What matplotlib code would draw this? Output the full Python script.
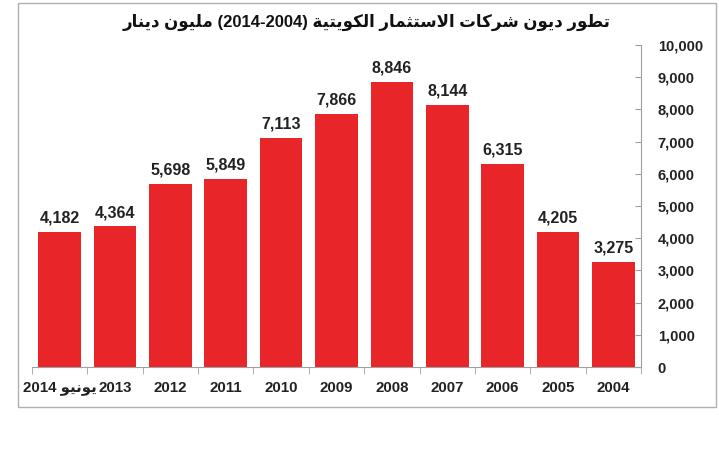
import matplotlib
matplotlib.use("Agg")
import matplotlib.pyplot as plt
from matplotlib.patches import Rectangle
from matplotlib.ticker import FuncFormatter, FixedLocator

# data, left to right as drawn
years = ["2014", "2013", "2012", "2011", "2010", "2009", "2008", "2007", "2006", "2005", "2004"]
debts = [4182, 4364, 5698, 5849, 7113, 7866, 8846, 8144, 6315, 4205, 3275]
title_words = "تطور ديون شركات الاستثمار الكويتية"
title_unit = "مليون دينار"
title_years = "(2014-2004)"
june = "يونيو"

# matplotlib has no arabic shaping, so do the joining forms by hand
DUAL = {'ب': 0xFE8F, 'ت': 0xFE95, 'ث': 0xFE99, 'ج': 0xFE9D, 'ح': 0xFEA1, 'خ': 0xFEA5,
        'س': 0xFEB1, 'ش': 0xFEB5, 'ص': 0xFEB9, 'ض': 0xFEBD, 'ط': 0xFEC1, 'ظ': 0xFEC5,
        'ع': 0xFEC9, 'غ': 0xFECD, 'ف': 0xFED1, 'ق': 0xFED5, 'ك': 0xFED9, 'ل': 0xFEDD,
        'م': 0xFEE1, 'ن': 0xFEE5, 'ه': 0xFEE9, 'ي': 0xFEF1}
RIGHT = {'ا': 0xFE8D, 'ة': 0xFE93, 'د': 0xFEA9, 'ذ': 0xFEAB, 'ر': 0xFEAD, 'ز': 0xFEAF,
         'و': 0xFEED, 'ى': 0xFEEF}


def shape_word(w):
    out = []
    i = 0
    n = len(w)
    while i < n:
        c = w[i]
        p = i > 0 and w[i - 1] in DUAL
        if c == 'ل' and i + 1 < n and w[i + 1] == 'ا':
            out.append(chr(0xFEFC if p else 0xFEFB))
            i += 2
            continue
        nxt = c in DUAL and i + 1 < n and (w[i + 1] in DUAL or w[i + 1] in RIGHT)
        if c in DUAL:
            form = 3 if (p and nxt) else 2 if nxt else 1 if p else 0
            out.append(chr(DUAL[c] + form))
        elif c in RIGHT:
            out.append(chr(RIGHT[c] + (1 if p else 0)))
        else:
            out.append(c)
        i += 1
    return ''.join(out)


def ar(text):
    return ' '.join(shape_word(w)[::-1] for w in reversed(text.split(' ')))


fam = ['Liberation Sans', 'DejaVu Sans']
plt.rcParams['font.family'] = fam
red = '#e8262a'
grey = '#a0a0a0'
dark = '#222222'

labels = list(years)
labels[0] = years[0] + " " + ar(june)

fig = plt.figure(figsize=(7.19, 4.5), dpi=100)
ax = fig.add_axes([0.0445, 0.1844, 0.8470, 0.7156])

x = list(range(len(debts)))
bars = ax.bar(x, debts, width=0.77, color=red, zorder=2)
for b, v in zip(bars, debts):
    ax.text(b.get_x() + b.get_width() / 2, v + 200, f"{v:,}", ha='center', va='bottom',
            fontsize=11.5, fontweight='bold', color=dark)

ax.set_xlim(-0.5, len(debts) - 0.5)
ax.set_ylim(0, 10000)
ax.set_yticks(range(0, 10001, 1000))
ax.yaxis.set_major_formatter(FuncFormatter(lambda v, _: f"{int(v):,}"))
ax.yaxis.tick_right()
ax.tick_params(axis='y', direction='in', length=4, color=grey, labelsize=10.5, pad=12)
for t in ax.get_yticklabels():
    t.set_fontweight('bold')
    t.set_color(dark)

ax.set_xticks(x)
ax.set_xticklabels(labels, fontsize=10.8, fontweight='bold', color=dark)
ax.tick_params(axis='x', length=0, pad=10)
ax.xaxis.set_minor_locator(FixedLocator([i - 0.5 for i in range(len(debts) + 1)]))
ax.tick_params(axis='x', which='minor', length=5, color=grey, direction='out')

for s in ['top', 'left']:
    ax.spines[s].set_visible(False)
ax.spines['right'].set_color(grey)
ax.spines['bottom'].set_color(grey)

fig.text(0.51, 0.951, ar(title_unit) + " " + title_years + " " + ar(title_words),
         ha='center', va='center', fontsize=12, fontweight='bold', color='#111111')

fig.patches.append(Rectangle((18 / 719, 43 / 450), 698 / 719, 404 / 450,
                             transform=fig.transFigure, fill=False, edgecolor='#b0b0b0', lw=1))

fig.savefig("out.png", dpi=100)
